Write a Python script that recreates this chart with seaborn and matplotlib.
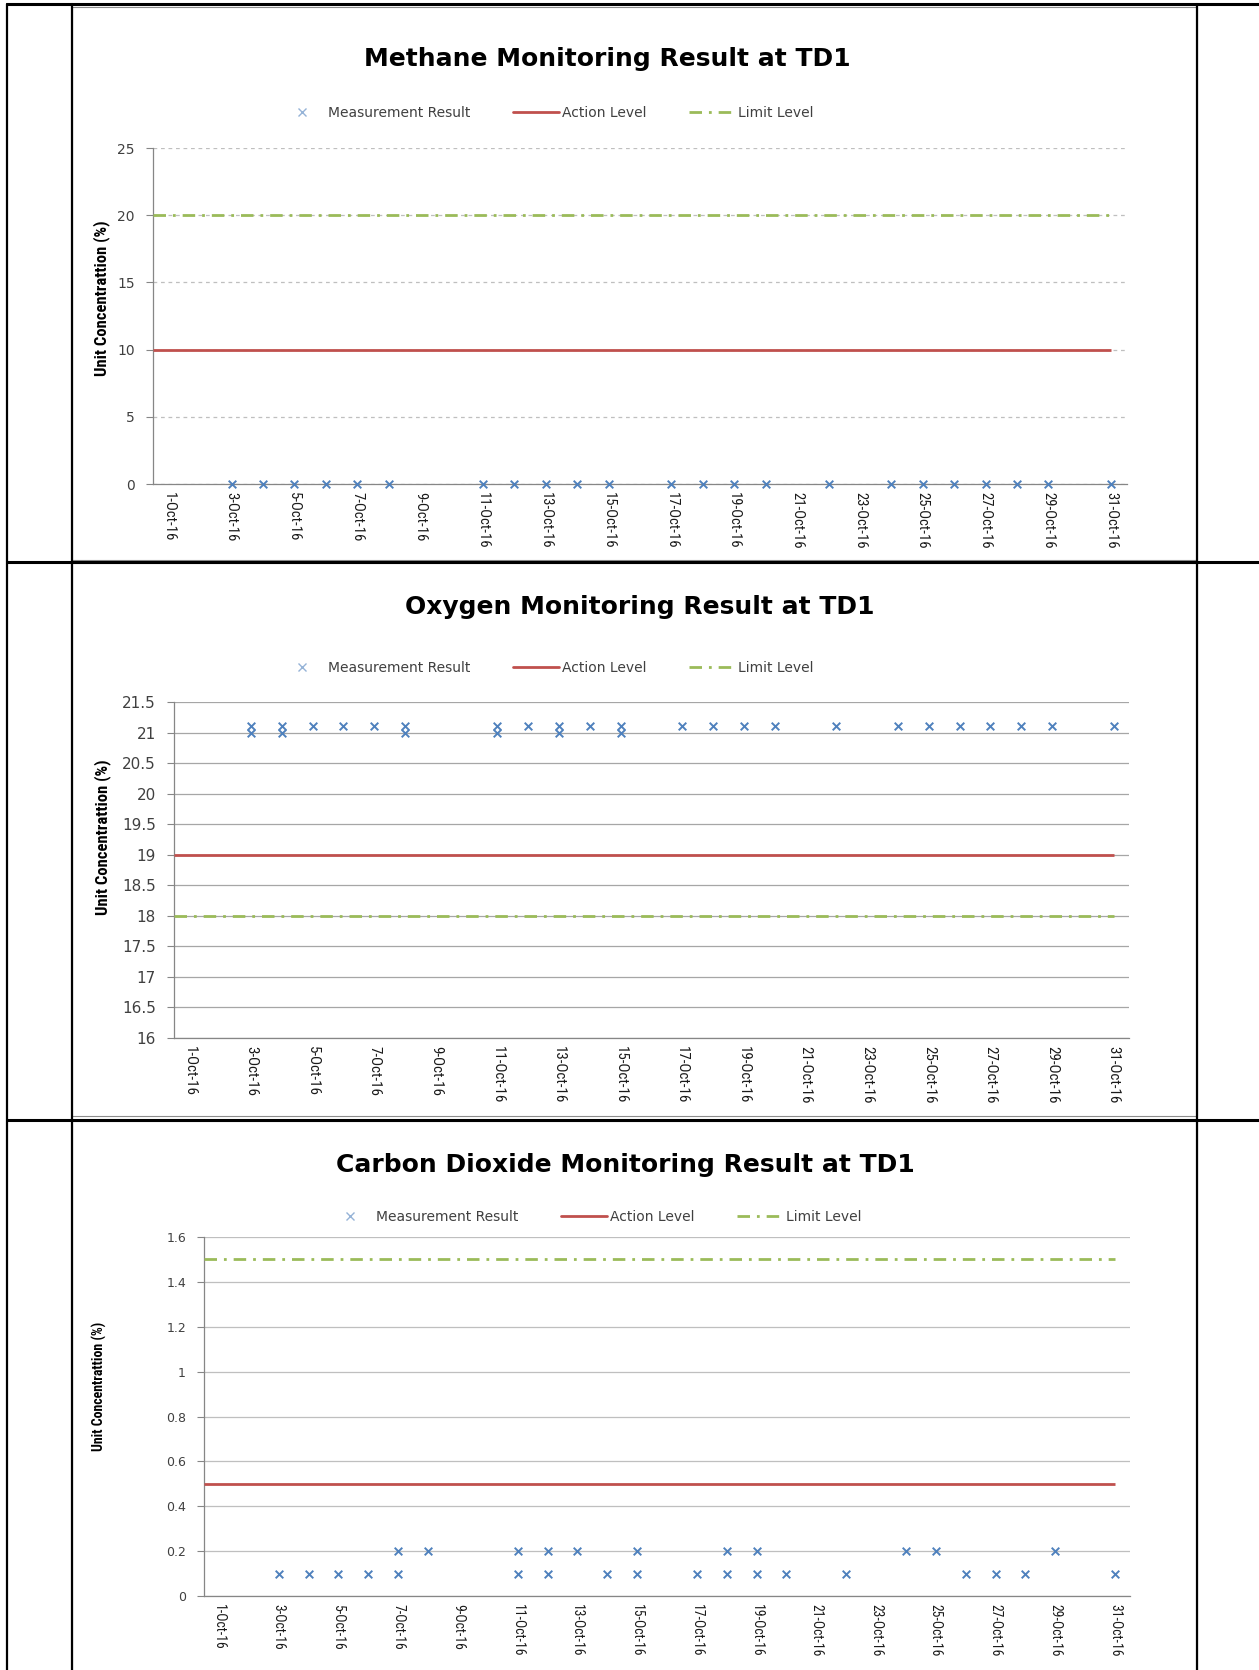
import matplotlib
matplotlib.use("Agg")
import matplotlib.pyplot as plt
import seaborn as sns
from matplotlib.lines import Line2D
from matplotlib.patches import Rectangle
from matplotlib import font_manager

# ---------------- data ----------------
tick_days = [1, 3, 5, 7, 9, 11, 13, 15, 17, 19, 21, 23, 25, 27, 29, 31]
tick_labels = ["1-Oct-16", "3-Oct-16", "5-Oct-16", "7-Oct-16", "9-Oct-16", "11-Oct-16",
               "13-Oct-16", "15-Oct-16", "17-Oct-16", "19-Oct-16", "21-Oct-16", "23-Oct-16",
               "25-Oct-16", "27-Oct-16", "29-Oct-16", "31-Oct-16"]
last_day = 31

ch4_days = [3, 4, 5, 6, 7, 8, 11, 12, 13, 14, 15, 17, 18, 19, 20, 22, 24, 25, 26, 27, 28, 29, 31]
ch4_vals = [0, 0, 0, 0, 0, 0, 0, 0, 0, 0, 0, 0, 0, 0, 0, 0, 0, 0, 0, 0, 0, 0, 0]
ch4_action = 10
ch4_limit = 20

o2_days = [3, 3, 4, 4, 5, 6, 7, 8, 8, 11, 11, 12, 13, 13, 14, 15, 15, 17, 18, 19, 20,
           22, 24, 25, 26, 27, 28, 29, 31]
o2_vals = [21.1, 21.0, 21.1, 21.0, 21.1, 21.1, 21.1, 21.1, 21.0, 21.1, 21.0, 21.1, 21.1, 21.0,
           21.1, 21.1, 21.0, 21.1, 21.1, 21.1, 21.1, 21.1, 21.1, 21.1, 21.1, 21.1, 21.1, 21.1, 21.1]
o2_action = 19
o2_limit = 18

co2_days = [3, 4, 5, 6, 7, 7, 8, 11, 11, 12, 12, 13, 14, 15, 15, 17, 18, 18, 19, 19, 20,
            22, 24, 25, 26, 27, 28, 29, 31]
co2_vals = [0.1, 0.1, 0.1, 0.1, 0.1, 0.2, 0.2, 0.1, 0.2, 0.1, 0.2, 0.2, 0.1, 0.1, 0.2, 0.1,
            0.1, 0.2, 0.1, 0.2, 0.1, 0.1, 0.2, 0.2, 0.1, 0.1, 0.1, 0.2, 0.1]
co2_action = 0.5
co2_limit = 1.5

titles = ["Methane Monitoring Result at TD1",
          "Oxygen Monitoring Result at TD1",
          "Carbon Dioxide Monitoring Result at TD1"]
ylabel = "Unit Concentrattion (%)"
legend_labels = ["Measurement Result", "Action Level", "Limit Level"]

# ---------------- style ----------------
sns.set_style("white")
plt.rcParams["font.family"] = ["DejaVu Sans"]

W, H = 1259, 1670
BLUE = "#4F81BD"
RED = "#C0504D"
GREEN = "#9BBB59"
AXGRAY = "#868686"
TXT = "#404040"
DASHDOT = (0, (4.5, 2.5, 1, 2.5))

# a condensed face for the narrow (Calibri-like) texts, if one is installed
_names = {f.name for f in font_manager.fontManager.ttflist}
_cands = ["Liberation Sans Narrow", "Roboto Condensed", "Open Sans Condensed",
          "DejaVu Sans Condensed"]
NARROW_FAMILY = [n for n in _cands if n in _names] + ["DejaVu Sans"]
_has_narrow = len(NARROW_FAMILY) > 1
NARROW = dict(family=NARROW_FAMILY, stretch="condensed")

fig = plt.figure(figsize=(W / 100, H / 100), dpi=100)


def fx(px):
    return px / W


def fy(py):
    return 1 - py / H


def rect(l, t, r, b):
    return [fx(l), fy(b), (r - l) / W, (b - t) / H]


# table / chart frames
for (t, b) in [(7, 560), (563, 1116), (1121, 1672)]:
    fig.add_artist(Rectangle((fx(72), fy(b)), (1197 - 72) / W, (b - t) / H,
                             transform=fig.transFigure, fill=False,
                             edgecolor="#8C8C8C", lw=0.8))
for y in [4, 562, 1120]:
    fig.add_artist(Line2D([fx(7), 1], [fy(y), fy(y)], transform=fig.transFigure,
                          color="black", lw=2.2))
for x in [7, 72, 1197]:
    fig.add_artist(Line2D([fx(x), fx(x)], [fy(4), 0], transform=fig.transFigure,
                          color="black", lw=1.6))

charts = [
    dict(days=ch4_days, vals=ch4_vals, action=ch4_action, limit=ch4_limit,
         box=(153, 148, 1127, 484), ylim=(0, 25), yticks=[0, 5, 10, 15, 20, 25],
         ylabels=["0", "5", "10", "15", "20", "25"],
         title_xy=(607, 59), legend_xy=(279, 113), ylabel_xy=(102, 298),
         grid_ls=(0, (3, 3)), grid_c="#BFBFBF", yfs=10, xfs=10.5, ylfs=12),
    dict(days=o2_days, vals=o2_vals, action=o2_action, limit=o2_limit,
         box=(174, 702, 1129, 1038), ylim=(16, 21.5),
         yticks=[16, 16.5, 17, 17.5, 18, 18.5, 19, 19.5, 20, 20.5, 21, 21.5],
         ylabels=["16", "16.5", "17", "17.5", "18", "18.5", "19", "19.5", "20", "20.5", "21", "21.5"],
         title_xy=(640, 607), legend_xy=(279, 668), ylabel_xy=(103, 837),
         grid_ls="-", grid_c="#A6A6A6", yfs=11, xfs=10.8, ylfs=12),
    dict(days=co2_days, vals=co2_vals, action=co2_action, limit=co2_limit,
         box=(204, 1237, 1130, 1596), ylim=(0, 1.6),
         yticks=[0, 0.2, 0.4, 0.6, 0.8, 1.0, 1.2, 1.4, 1.6],
         ylabels=["0", "0.2", "0.4", "0.6", "0.8", "1", "1.2", "1.4", "1.6"],
         title_xy=(625, 1165), legend_xy=(327, 1217), ylabel_xy=(99, 1386),
         grid_ls="-", grid_c="#BFBFBF", yfs=9, xfs=9.8, ylfs=10),
]

for i, c in enumerate(charts):
    ax = fig.add_axes(rect(*c["box"]))
    ax.set_xlim(0.5, last_day + 0.5)
    ax.set_ylim(*c["ylim"])

    ax.set_yticks(c["yticks"])
    ax.set_yticklabels(c["ylabels"], fontsize=c["yfs"], color=TXT)
    ax.set_xticks(tick_days)
    xfs = c["xfs"] if _has_narrow else c["xfs"] * 0.85
    ax.set_xticklabels(tick_labels, rotation=270, fontsize=xfs, color="#1A1A1A", **NARROW)
    ax.set_xticks([d - 0.5 for d in tick_days], minor=True)
    ax.tick_params(axis="x", which="major", length=0, pad=6)
    ax.tick_params(axis="x", which="minor", length=5, color=AXGRAY, width=0.8, direction="out")
    ax.tick_params(axis="y", length=5, color=AXGRAY, width=0.8, direction="out", pad=8,
                   left=True)
    ax.yaxis.grid(True, linestyle=c["grid_ls"], color=c["grid_c"], lw=0.9)
    ax.xaxis.grid(False)
    ax.set_axisbelow(True)
    for s in ["top", "right"]:
        ax.spines[s].set_visible(False)
    for s in ["left", "bottom"]:
        ax.spines[s].set_color(AXGRAY)
        ax.spines[s].set_linewidth(0.9)

    x_lo = ax.get_xlim()[0]
    ax.hlines(c["limit"], x_lo, last_day, colors=GREEN, linestyles=DASHDOT, lw=2.0, zorder=3)
    ax.hlines(c["action"], x_lo, last_day, colors=RED, lw=2.0, zorder=3)
    sns.scatterplot(x=c["days"], y=c["vals"], ax=ax, marker="x", color=BLUE, s=30,
                    linewidth=1.4, zorder=4, legend=False, clip_on=False)
    ax.set_xlabel("")
    ax.set_ylabel("")

    fig.text(fx(c["title_xy"][0]), fy(c["title_xy"][1]), titles[i], ha="center", va="center",
             fontsize=18, fontweight="bold", color="black")
    ylfs = c["ylfs"] if _has_narrow else c["ylfs"] * 0.8
    fig.text(fx(c["ylabel_xy"][0]), fy(c["ylabel_xy"][1]), ylabel, ha="center", va="center",
             rotation=90, fontsize=ylfs, fontweight="bold", color="black", **NARROW)

    handles = [
        Line2D([], [], marker="x", ls="none", color="#95B3D7", markersize=6, mew=1.0),
        Line2D([], [], color=RED, lw=2.0),
        Line2D([], [], color=GREEN, lw=2.0, ls=DASHDOT),
    ]
    fig.legend(handles, legend_labels, loc="center left",
               bbox_to_anchor=(fx(c["legend_xy"][0]), fy(c["legend_xy"][1])),
               bbox_transform=fig.transFigure, ncol=3, frameon=False, fontsize=10,
               handlelength=3.3, handletextpad=0.2, columnspacing=3.1, borderpad=0,
               borderaxespad=0, labelcolor=TXT)

fig.savefig("out.png", dpi=100)
